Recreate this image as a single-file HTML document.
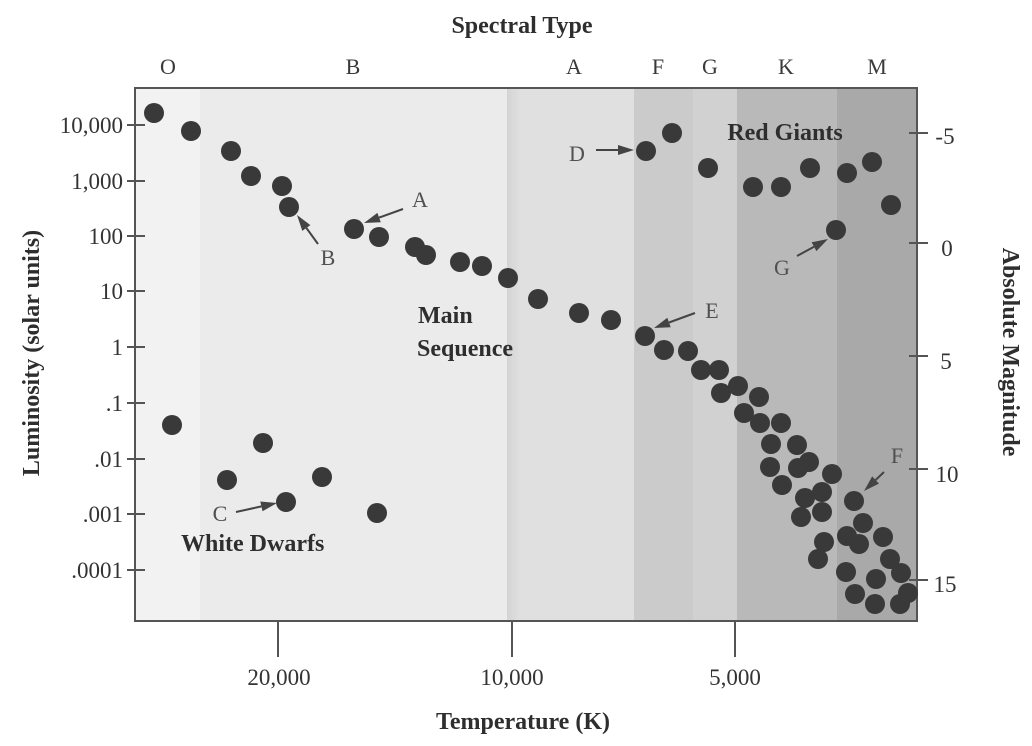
<!DOCTYPE html>
<html>
<head>
<meta charset="utf-8">
<style>
  html,body{margin:0;padding:0;background:#ffffff;}
  svg{display:block;}
  .tl{font-family:"Liberation Serif",serif;font-size:23px;fill:#333;}
  .ttl{font-family:"Liberation Serif",serif;font-size:24px;font-weight:bold;fill:#2e2e2e;}
  .ann{font-family:"Liberation Serif",serif;font-size:22px;fill:#505050;}
  .sp{font-family:"Liberation Serif",serif;font-size:22px;fill:#3a3a3a;}
</style>
</head>
<body>
<svg width="1032" height="746" viewBox="0 0 1032 746" xmlns="http://www.w3.org/2000/svg">
  <rect x="0" y="0" width="1032" height="746" fill="#ffffff"/>

  <!-- background bands -->
  <defs>
    <linearGradient id="strip" x1="0" x2="1" y1="0" y2="0">
      <stop offset="0" stop-color="#d4d4d4"/>
      <stop offset="1" stop-color="#e0e0e0"/>
    </linearGradient>
  </defs>
  <rect x="135" y="88" width="65" height="533" fill="#f2f2f2"/>
  <rect x="200" y="88" width="307" height="533" fill="#ebebeb"/>
  <rect x="507" y="88" width="127" height="533" fill="#e0e0e0"/>
  <rect x="507" y="88" width="14" height="533" fill="url(#strip)"/>
  <rect x="634" y="88" width="59" height="533" fill="#cbcbcb"/>
  <rect x="693" y="88" width="44" height="533" fill="#d1d1d1"/>
  <rect x="737" y="88" width="100" height="533" fill="#b9b9b9"/>
  <rect x="837" y="88" width="80" height="533" fill="#a9a9a9"/>

  <!-- frame -->
  <rect x="135" y="88" width="782" height="533" fill="none" stroke="#555" stroke-width="2"/>

  <!-- left ticks -->
  <g stroke="#555" stroke-width="2">
    <line x1="127" y1="125" x2="145" y2="125"/>
    <line x1="127" y1="181" x2="145" y2="181"/>
    <line x1="127" y1="236" x2="145" y2="236"/>
    <line x1="127" y1="291" x2="145" y2="291"/>
    <line x1="127" y1="347" x2="145" y2="347"/>
    <line x1="127" y1="403" x2="145" y2="403"/>
    <line x1="127" y1="459" x2="145" y2="459"/>
    <line x1="127" y1="514" x2="145" y2="514"/>
    <line x1="127" y1="570" x2="145" y2="570"/>
    <!-- right ticks -->
    <line x1="909" y1="133" x2="928" y2="133"/>
    <line x1="909" y1="243" x2="928" y2="243"/>
    <line x1="909" y1="356" x2="928" y2="356"/>
    <line x1="909" y1="469" x2="928" y2="469"/>
    <line x1="909" y1="580" x2="928" y2="580"/>
    <!-- bottom ticks -->
    <line x1="278" y1="621" x2="278" y2="657"/>
    <line x1="512" y1="621" x2="512" y2="657"/>
    <line x1="735" y1="621" x2="735" y2="657"/>
  </g>

  <!-- left tick labels -->
  <g class="tl" text-anchor="end">
    <text x="123" y="133">10,000</text>
    <text x="123" y="189">1,000</text>
    <text x="123" y="244">100</text>
    <text x="123" y="299">10</text>
    <text x="123" y="355">1</text>
    <text x="123" y="411">.1</text>
    <text x="123" y="467">.01</text>
    <text x="123" y="522">.001</text>
    <text x="123" y="578">.0001</text>
  </g>

  <!-- right tick labels -->
  <g class="tl" text-anchor="middle">
    <text x="945" y="144">-5</text>
    <text x="947" y="256">0</text>
    <text x="946" y="369">5</text>
    <text x="947" y="482">10</text>
    <text x="945" y="592">15</text>
  </g>

  <!-- bottom tick labels -->
  <g class="tl" text-anchor="middle">
    <text x="279" y="685">20,000</text>
    <text x="512" y="685">10,000</text>
    <text x="735" y="685">5,000</text>
  </g>

  <!-- spectral letters -->
  <g class="sp" text-anchor="middle">
    <text x="168" y="74">O</text>
    <text x="353" y="74">B</text>
    <text x="574" y="74">A</text>
    <text x="658" y="74">F</text>
    <text x="710" y="74">G</text>
    <text x="786" y="74">K</text>
    <text x="877" y="74">M</text>
  </g>

  <!-- titles -->
  <text class="ttl" x="522" y="33" text-anchor="middle">Spectral Type</text>
  <text class="ttl" x="523" y="729" text-anchor="middle">Temperature (K)</text>
  <text class="ttl" text-anchor="middle" transform="translate(39,353) rotate(-90)">Luminosity (solar units)</text>
  <text class="ttl" text-anchor="middle" transform="translate(1003,352) rotate(90)">Absolute Magnitude</text>

  <!-- region labels -->
  <text class="ttl" x="785" y="140" text-anchor="middle">Red Giants</text>
  <text class="ttl" x="418" y="323">Main</text>
  <text class="ttl" x="417" y="356">Sequence</text>
  <text class="ttl" x="181" y="551">White Dwarfs</text>

  <!-- stars -->
  <g fill="#393939">
    <!-- upper main sequence -->
    <circle cx="154" cy="113" r="10"/>
    <circle cx="191" cy="131" r="10"/>
    <circle cx="231" cy="151" r="10"/>
    <circle cx="251" cy="176" r="10"/>
    <circle cx="282" cy="186" r="10"/>
    <circle cx="289" cy="207" r="10"/>
    <circle cx="354" cy="229" r="10"/>
    <circle cx="379" cy="237" r="10"/>
    <circle cx="415" cy="247" r="10"/>
    <circle cx="426" cy="255" r="10"/>
    <circle cx="460" cy="262" r="10"/>
    <circle cx="482" cy="266" r="10"/>
    <circle cx="508" cy="278" r="10"/>
    <circle cx="538" cy="299" r="10"/>
    <circle cx="579" cy="313" r="10"/>
    <circle cx="611" cy="320" r="10"/>
    <circle cx="645" cy="336" r="10"/>
    <circle cx="664" cy="350" r="10"/>
    <circle cx="688" cy="351" r="10"/>
    <!-- lower main sequence -->
    <circle cx="701" cy="370" r="10"/>
    <circle cx="719" cy="370" r="10"/>
    <circle cx="721" cy="393" r="10"/>
    <circle cx="738" cy="386" r="10"/>
    <circle cx="759" cy="397" r="10"/>
    <circle cx="744" cy="413" r="10"/>
    <circle cx="760" cy="423" r="10"/>
    <circle cx="781" cy="423" r="10"/>
    <circle cx="771" cy="444" r="10"/>
    <circle cx="797" cy="445" r="10"/>
    <circle cx="809" cy="462" r="10"/>
    <circle cx="798" cy="468" r="10"/>
    <circle cx="770" cy="467" r="10"/>
    <circle cx="832" cy="474" r="10"/>
    <circle cx="782" cy="485" r="10"/>
    <circle cx="822" cy="492" r="10"/>
    <circle cx="805" cy="498" r="10"/>
    <circle cx="854" cy="501" r="10"/>
    <circle cx="822" cy="512" r="10"/>
    <circle cx="801" cy="517" r="10"/>
    <circle cx="863" cy="523" r="10"/>
    <circle cx="847" cy="536" r="10"/>
    <circle cx="883" cy="537" r="10"/>
    <circle cx="824" cy="542" r="10"/>
    <circle cx="859" cy="544" r="10"/>
    <circle cx="818" cy="559" r="10"/>
    <circle cx="890" cy="559" r="10"/>
    <circle cx="901" cy="573" r="10"/>
    <circle cx="846" cy="572" r="10"/>
    <circle cx="876" cy="579" r="10"/>
    <circle cx="908" cy="593" r="10"/>
    <circle cx="855" cy="594" r="10"/>
    <circle cx="875" cy="604" r="10"/>
    <circle cx="900" cy="604" r="10"/>
    <!-- red giants -->
    <circle cx="646" cy="151" r="10"/>
    <circle cx="672" cy="133" r="10"/>
    <circle cx="708" cy="168" r="10"/>
    <circle cx="753" cy="187" r="10"/>
    <circle cx="781" cy="187" r="10"/>
    <circle cx="810" cy="168" r="10"/>
    <circle cx="847" cy="173" r="10"/>
    <circle cx="872" cy="162" r="10"/>
    <circle cx="891" cy="205" r="10"/>
    <circle cx="836" cy="230" r="10"/>
    <!-- white dwarfs -->
    <circle cx="172" cy="425" r="10"/>
    <circle cx="263" cy="443" r="10"/>
    <circle cx="227" cy="480" r="10"/>
    <circle cx="322" cy="477" r="10"/>
    <circle cx="286" cy="502" r="10"/>
    <circle cx="377" cy="513" r="10"/>
  </g>

  <!-- annotation arrows -->
  <g stroke="#444" stroke-width="2" fill="none">
    <line x1="403" y1="209" x2="379" y2="217.6"/>
    <line x1="318" y1="244" x2="306.4" y2="228"/>
    <line x1="236" y1="512" x2="261.4" y2="506.4"/>
    <line x1="596" y1="150" x2="618" y2="150"/>
    <line x1="695" y1="313" x2="669" y2="322.5"/>
    <line x1="884" y1="472" x2="875.6" y2="480"/>
    <line x1="797" y1="256" x2="814" y2="246.7"/>
  </g>
  <g fill="#444">
    <polygon points="364,223 380.8,222.3 377.4,212.9"/>
    <polygon points="297,215 310.4,225.1 302.3,230.9"/>
    <polygon points="277,503 262.5,511.3 260.3,501.5"/>
    <polygon points="634,150 618,155 618,145"/>
    <polygon points="654,328 670.7,327.2 667.3,317.8"/>
    <polygon points="864,491 879,483.6 872.2,476.4"/>
    <polygon points="828,239 816.4,251.1 811.6,242.3"/>
  </g>

  <!-- annotation letters -->
  <g class="ann" text-anchor="middle">
    <text x="420" y="207">A</text>
    <text x="328" y="265">B</text>
    <text x="220" y="521">C</text>
    <text x="577" y="161">D</text>
    <text x="712" y="318">E</text>
    <text x="897" y="463">F</text>
    <text x="782" y="275">G</text>
  </g>
</svg>
</body>
</html>
